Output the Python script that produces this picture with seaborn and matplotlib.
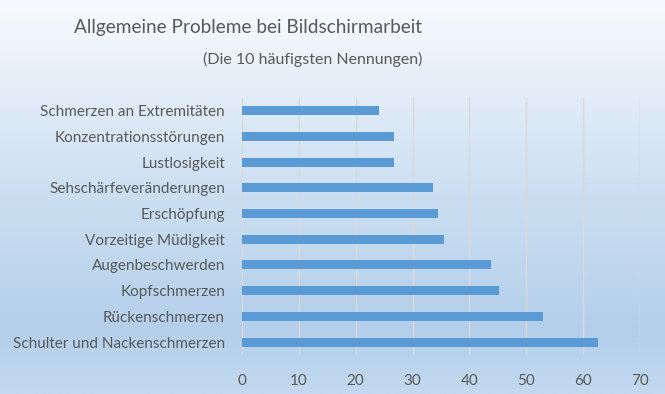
import numpy as np
import pandas as pd
import seaborn as sns
import matplotlib.pyplot as plt
from matplotlib.colors import LinearSegmentedColormap

# Daten (von oben nach unten)
probleme = [
    "Schmerzen an Extremitäten",
    "Konzentrationsstörungen",
    "Lustlosigkeit",
    "Sehschärfeveränderungen",
    "Erschöpfung",
    "Vorzeitige Müdigkeit",
    "Augenbeschwerden",
    "Kopfschmerzen",
    "Rückenschmerzen",
    "Schulter und Nackenschmerzen",
]
nennungen = [24.1, 26.7, 26.7, 33.6, 34.5, 35.5, 43.8, 45.2, 52.9, 62.6]
x_ticks = [0, 10, 20, 30, 40, 50, 60, 70]

df = pd.DataFrame({"Problem": probleme, "Nennungen": nennungen})

sns.set_theme(style="white")
plt.rcParams['font.family'] = ['Lato', 'DejaVu Sans']
grau = '#595959'

fig = plt.figure(figsize=(6.65, 3.94), dpi=100)

# Hintergrund mit Farbverlauf
bg = fig.add_axes([0, 0, 1, 1], zorder=0)
verlauf = LinearSegmentedColormap.from_list(
    'verlauf', [(0.0, '#c3d9ef'), (0.16, '#b3cfea'), (0.55, '#cfe1f3'), (1.0, '#f8fbfe')])
bg.imshow(np.linspace(0, 1, 256).reshape(-1, 1), aspect='auto', cmap=verlauf,
          origin='lower', extent=[0, 1, 0, 1])
bg.axis('off')

ax = fig.add_axes([0.3635, 0.099, 0.5994, 0.653], zorder=1)
ax.patch.set_alpha(0)
sns.barplot(data=df, x="Nennungen", y="Problem", orient='h', color='#5b9bd5',
            saturation=1, width=0.35, linewidth=0, ax=ax, zorder=3)

ax.set_xlim(0, 70)
ax.set_xticks(x_ticks)
ax.set_xlabel('')
ax.set_ylabel('')
ax.grid(axis='x', color='#d9d9d9', linewidth=1, zorder=0)
for s in ax.spines.values():
    s.set_visible(False)
ax.tick_params(axis='x', colors=grau, labelsize=11, length=0, pad=14)
ax.tick_params(axis='y', colors=grau, labelsize=11, length=0, pad=12)

fig.text(0.635, 0.93, 'Allgemeine Probleme bei Bildschirmarbeit', ha='right', va='center',
         fontsize=13.7, color=grau)
fig.text(0.635, 0.848, '(Die 10 häufigsten Nennungen)', ha='right', va='center',
         fontsize=11.5, color=grau)

fig.savefig('out.png', dpi=100)
